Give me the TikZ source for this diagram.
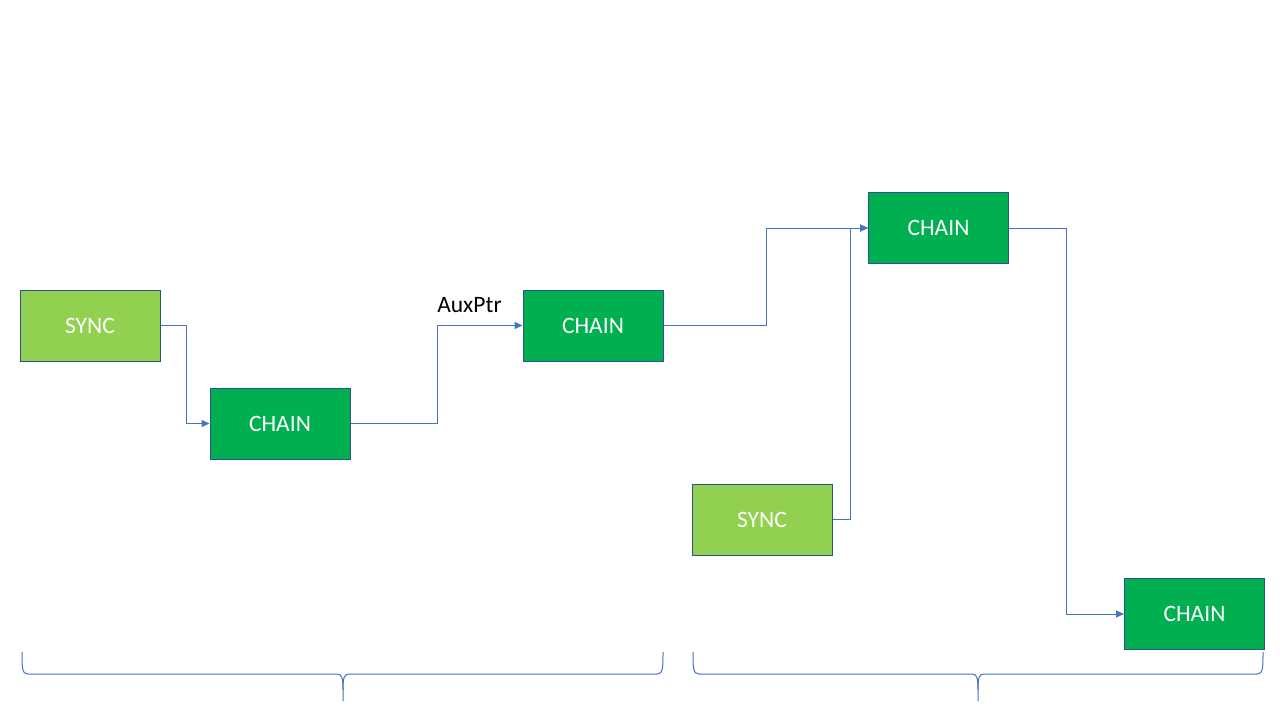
\documentclass[tikz,border=0pt]{standalone}
\usepackage{fontspec}
\setmainfont{Carlito}
\usetikzlibrary{arrows.meta}
\definecolor{lgreen}{HTML}{92D050}
\definecolor{dgreen}{HTML}{00B050}
\definecolor{bord}{HTML}{2F528F}
\definecolor{conn}{HTML}{4472C4}
\tikzset{
  box/.style={draw=bord, line width=1pt, minimum width=140pt, minimum height=71pt, inner sep=0pt, text=white, font=\fontsize{23.5}{26}\selectfont},
  syncbox/.style={box, fill=lgreen},
  chainbox/.style={box, fill=dgreen},
  conline/.style={draw=conn, line width=1pt},
  conarrow/.style={conline, -{Triangle[length=8pt,width=7pt]}},
  bracestyle/.style={draw=conn, line width=1pt}
}
\begin{document}
\begin{tikzpicture}[x=1pt,y=-1pt]
\useasboundingbox (0,0) rectangle (1280,720);
\node[syncbox]  (s1) at (90,325.5) {SYNC};
\node[chainbox] (c1) at (280,423.5) {CHAIN};
\node[chainbox] (c2) at (593,325.5) {CHAIN};
\node[chainbox] (c3) at (938.5,228) {CHAIN};
\node[syncbox]  (s2) at (762,519.5) {SYNC};
\node[chainbox] (c4) at (1194.5,614) {CHAIN};
\node[font=\fontsize{23.5}{26}\selectfont, text=black] (aux) at (469.5,305) {AuxPtr};
\coordinate (j1) at (186,0);
\coordinate (j2) at (437,0);
\coordinate (j3) at (766,0);
\coordinate (j4) at (850,0);
\coordinate (j5) at (1066,0);
\draw[conarrow] (s1.east) -| (j1 |- c1.west) -- (c1.west);
\draw[conarrow] (c1.east) -| (j2 |- c2.west) -- (c2.west);
\draw[conarrow] (c2.east) -| (j3 |- c3.west) -- (c3.west);
\draw[conarrow] (s2.east) -| (j4 |- c3.west) -- (c3.west);
\draw[conarrow] (c3.east) -| (j5 |- c4.west) -- (c4.west);
% braces
\coordinate (b1l) at (22,652);
\coordinate (b1r) at (663,652);
\coordinate (b1t) at (343,701);
\coordinate (b2l) at (693,652);
\coordinate (b2r) at (1263,652);
\coordinate (b2t) at (978,701);
\draw[bracestyle] (b1l) .. controls (22,668) and (22,674) .. (28,674) -- (337,674) .. controls (342,674) and (343,678) .. (343,690) -- (b1t);
\draw[bracestyle] (b1r) .. controls (663,668) and (663,674) .. (657,674) -- (349,674) .. controls (344,674) and (343,678) .. (343,690);
\draw[bracestyle] (b2l) .. controls (693,668) and (693,674) .. (699,674) -- (972,674) .. controls (977,674) and (978,678) .. (978,690) -- (b2t);
\draw[bracestyle] (b2r) .. controls (1263,668) and (1263,674) .. (1257,674) -- (984,674) .. controls (979,674) and (978,678) .. (978,690);
\end{tikzpicture}
\end{document}
